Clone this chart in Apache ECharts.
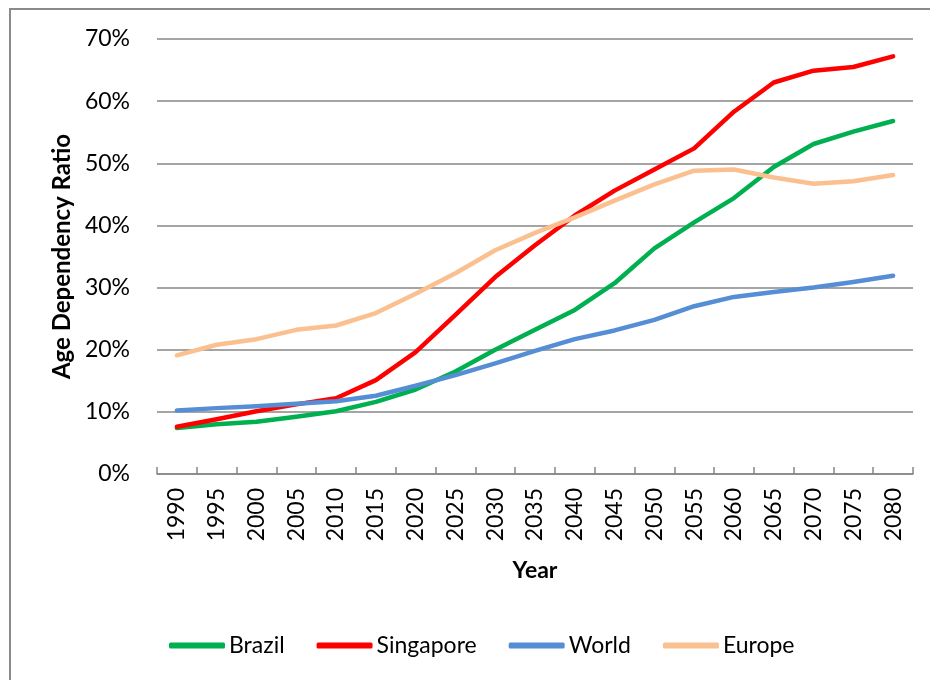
<!DOCTYPE html>
<html>
<head>
<meta charset="utf-8">
<title>Age Dependency Ratio</title>
<script src="https://cdn.jsdelivr.net/npm/echarts@6/dist/echarts.min.js"></script>
<style>
  html, body { margin: 0; padding: 0; background: #fff; }
  #chart { width: 930px; height: 680px; }
</style>
</head>
<body>
<div id="chart"></div>
<script>
// years on the x axis
var years = ['1990', '1995', '2000', '2005', '2010', '2015', '2020', '2025', '2030', '2035',
             '2040', '2045', '2050', '2055', '2060', '2065', '2070', '2075', '2080']

// age dependency ratio, in percent
var brazil    = [7.4, 8.0, 8.4, 9.2, 10.1, 11.6, 13.6, 16.5, 20.0, 23.2, 26.4, 30.7, 36.3, 40.5, 44.4, 49.4, 53.1, 55.1, 56.8]
var singapore = [7.6, 8.8, 10.1, 11.2, 12.2, 15.1, 19.6, 25.6, 31.7, 36.8, 41.6, 45.6, 49.0, 52.4, 58.3, 63.0, 64.9, 65.5, 67.2]
var world     = [10.2, 10.6, 10.9, 11.3, 11.7, 12.6, 14.2, 15.9, 17.8, 19.8, 21.7, 23.1, 24.8, 27.0, 28.5, 29.3, 30.0, 30.9, 31.9]
var europe    = [19.1, 20.8, 21.7, 23.2, 23.9, 25.9, 29.0, 32.3, 36.0, 38.8, 41.3, 44.0, 46.6, 48.8, 49.0, 47.7, 46.7, 47.1, 48.1]

var yTicks = { min: 0, max: 70, interval: 10 }

var font = 'Lato, "Open Sans", sans-serif'
var gridGray = '#878787'

var chart = echarts.init(document.getElementById('chart'))

function line(name, data, color) {
  return {
    name: name,
    type: 'line',
    data: data,
    showSymbol: false,
    symbol: 'none',
    color: color,
    lineStyle: { width: 4.5, color: color, cap: 'round', join: 'round' },
    emphasis: { disabled: true }
  }
}

chart.setOption({
  animation: false,
  textStyle: { fontFamily: font, color: '#000' },
  graphic: [
    {
      type: 'rect',
      shape: { x: 10, y: 9, width: 940, height: 700 },
      style: { fill: 'none', stroke: '#8a8a8a', lineWidth: 2 }
    }
  ],
  grid: { left: 157, right: 17, top: 39, bottom: 206 },
  legend: {
    left: 164,
    top: 629,
    itemWidth: 56,
    itemHeight: 6,
    itemGap: 32,
    icon: 'roundRect',
    textStyle: { fontFamily: font, fontSize: 23, color: '#000', padding: [0, 0, 0, -1] },
    data: ['Brazil', 'Singapore', 'World', 'Europe']
  },
  xAxis: {
    type: 'category',
    data: years,
    boundaryGap: true,
    name: 'Year',
    nameLocation: 'middle',
    nameGap: 85,
    nameTextStyle: { fontFamily: font, fontSize: 23, fontWeight: 'bold', color: '#000' },
    axisLine: { lineStyle: { color: gridGray, width: 1.5 } },
    axisTick: { show: true, inside: true, length: 7, alignWithLabel: false, lineStyle: { color: gridGray, width: 1.5 } },
    axisLabel: { rotate: 90, margin: 14, fontFamily: font, fontSize: 23, color: '#000', interval: 0 },
    splitLine: { show: false }
  },
  yAxis: {
    type: 'value',
    min: yTicks.min,
    max: yTicks.max,
    interval: yTicks.interval,
    name: 'Age Dependency Ratio',
    nameLocation: 'middle',
    nameGap: 83,
    nameTextStyle: { fontFamily: font, fontSize: 24, fontWeight: 'bold', color: '#000' },
    axisLine: { show: false },
    axisTick: { show: false },
    axisLabel: { formatter: '{value}%', margin: 27, fontFamily: font, fontSize: 23, color: '#000' },
    splitLine: { show: true, lineStyle: { color: gridGray, width: 1.5 } }
  },
  series: [
    line('Brazil', brazil, '#00b050'),
    line('Singapore', singapore, '#ff0000'),
    line('World', world, '#558ed5'),
    line('Europe', europe, '#fac090')
  ]
})
</script>
</body>
</html>
